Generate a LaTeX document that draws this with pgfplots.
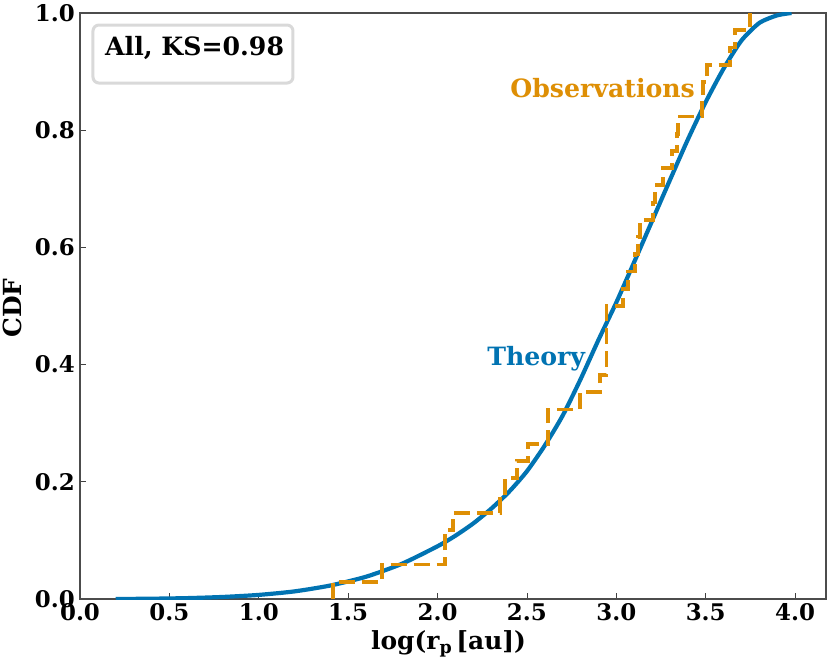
\documentclass[border=0pt]{standalone}
\usepackage{fontspec}
\setmainfont{DejaVu Serif}
\usepackage{pgfplots}
\pgfplotsset{compat=1.18}
\definecolor{cbblue}{HTML}{0173B2}
\definecolor{cborange}{HTML}{DE8F05}
\begin{document}
\begin{tikzpicture}
\useasboundingbox (-80bp,-65bp) rectangle (750bp,599bp);
\begin{axis}[
  scale only axis, width=746bp, height=586bp,
  at={(0,0)}, anchor=origin,
  xmin=0, xmax=4.173, ymin=0, ymax=1,
  xtick={0,0.5,...,4.0}, ytick={0,0.2,...,1.0},
  tick pos=left, tick align=inside,
  major tick length=6bp,
  tick style={draw=black!75, line width=0.8bp},
  axis line style={draw=black!70, line width=1.1bp},
  /pgf/number format/assume math mode=true,
  /pgf/number format/fixed, /pgf/number format/fixed zerofill,
  /pgf/number format/precision=1,
  tick label style={font=\fontsize{23}{27}\selectfont\bfseries, inner sep=1bp},
  xticklabel style={yshift=-3bp},
  yticklabel style={xshift=-4bp},
  xlabel={log(r\textsubscript{p}\,[au])},
  ylabel={CDF},
  label style={font=\fontsize{25}{29}\selectfont\bfseries},
  xlabel style={at={(axis description cs:0.494,-0.0870)}, anchor=base},
  ylabel style={at={(axis description cs:-0.0912,0.4966)}, anchor=center, rotate=0},
  clip=true,
]
\addplot[color=cbblue, line width=4.2bp, line join=round, smooth, tension=0.4] coordinates {
(0.2,0.000) (0.4,0.0005) (0.6,0.0015) (0.8,0.0035) (1.0,0.007) (1.2,0.013)
(1.4,0.023) (1.6,0.038) (1.8,0.060) (2.0,0.090) (2.1,0.108) (2.2,0.129)
(2.3,0.154) (2.4,0.183) (2.5,0.218) (2.6,0.262) (2.7,0.313) (2.8,0.375)
(2.9,0.442) (3.0,0.506) (3.1,0.575) (3.2,0.645) (3.3,0.715) (3.4,0.784)
(3.5,0.848) (3.6,0.905) (3.7,0.953) (3.8,0.983) (3.9,0.996) (3.98,1.000)
};
\addplot[const plot, color=cborange, line width=3.8bp, dash pattern=on 16bp off 7bp] coordinates {
(1.415,0) (1.415,0.0294) (1.690,0.0588) (2.042,0.1176) (2.087,0.1471)
(2.350,0.1765) (2.378,0.2059) (2.445,0.2353) (2.506,0.2647) (2.618,0.3235)
(2.797,0.3529) (2.909,0.3824) (2.945,0.5000) (3.038,0.5294) (3.066,0.5588)
(3.105,0.5882) (3.122,0.6176) (3.133,0.6471) (3.206,0.6765) (3.217,0.7059)
(3.262,0.7353) (3.312,0.7647) (3.340,0.7941) (3.346,0.8235) (3.480,0.8529)
(3.485,0.8824) (3.508,0.9118) (3.636,0.9412) (3.664,0.9706) (3.748,1.0000)
};
\node[anchor=base west, inner sep=0pt, text=cbblue, font=\fontsize{25.3}{29}\selectfont\bfseries] at (axis cs:2.277,0.399) {Theory};
\node[anchor=base west, inner sep=0pt, text=cborange, font=\fontsize{25.3}{29}\selectfont\bfseries] at (axis cs:2.406,0.855) {Observations};
\draw[rounded corners=6bp, draw=black!15, line width=3bp, fill=white]
  (rel axis cs:0.0174,0.8805) rectangle (rel axis cs:0.2855,0.9795);
\node[anchor=base west, inner sep=0pt, font=\fontsize{25.3}{29}\selectfont\bfseries] at (rel axis cs:0.0335,0.928) {All, KS=0.98};
\end{axis}
\end{tikzpicture}
\end{document}
